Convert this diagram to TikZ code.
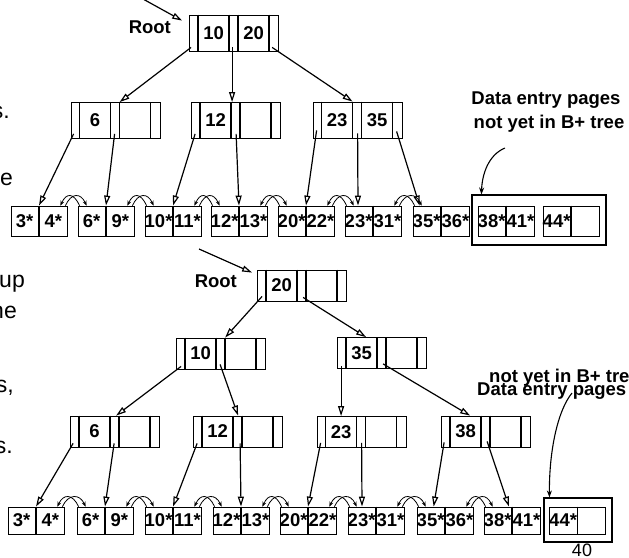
\documentclass[tikz,border=0pt]{standalone}
\usepackage{fontspec}
\setmainfont{Liberation Sans}
\usetikzlibrary{arrows.meta}

\tikzset{
  tnode/.style={draw, line width=0.8pt, minimum width=89pt, minimum height=36pt, inner sep=0pt},
  tsep/.style={line width=1.6pt},
  key/.style={font=\fontsize{18.5}{21}\bfseries\selectfont, inner sep=0pt},
  leaf/.style={draw, line width=0.8pt, minimum width=56pt, minimum height=30pt, inner sep=0pt},
  box/.style={draw, line width=1.1pt, inner sep=0pt},
  tptr/.style={line width=1.2pt, -{Triangle[open,length=10pt,width=6pt]}},
  link/.style={line width=0.8pt, -{Stealth[length=5pt,width=4pt]}},
  dptr/.style={line width=1.1pt, -{Stealth[length=7pt,width=5pt]}},
  lbl/.style={font=\fontsize{18.5}{21}\bfseries\selectfont, inner sep=0pt},
  frag/.style={font=\fontsize{23}{27}\selectfont, inner sep=0pt, anchor=base east},
}

% index node: name, x, y, left key, right key
\newcommand{\treenode}[5]{%
  \node[tnode] (#1) at (#2,#3) {};
  \foreach \dx in {9,40,49,80}
    \draw[tsep] ([xshift=\dx pt]#1.north west) -- ([xshift=\dx pt]#1.south west);
  \node[key] (#1a) at ([xshift=24.5pt]#1.west) {#4};
  \node[key] (#1b) at ([xshift=64.5pt]#1.west) {#5};
}

% leaf page: name, x, y, two entries
\newcommand{\leafnode}[5]{%
  \node[leaf] (#1) at (#2,#3) {};
  \draw[tsep] (#1.north) -- (#1.south);
  \node[key] (#1a) at ([xshift=14pt]#1.west) {#4};
  \node[key] (#1b) at ([xshift=-14pt]#1.east) {#5};
}

% sibling pointers between two leaves
\newcommand{\leaflink}[2]{%
  \draw[link] ([xshift=-2pt]#1.north east) .. controls +(6,-13) and +(-6,-13) .. ([xshift=9pt]#2.north west);
  \draw[link] ([xshift=2pt]#2.north west) .. controls +(-6,-13) and +(6,-13) .. ([xshift=-7pt]#1.north east);
}

\begin{document}
\begin{tikzpicture}[x=1pt,y=-1pt]
  \useasboundingbox (0,0) rectangle (629,557);

  \node[frag] (f1) at (10,118) {s.};
  \node[frag] (f2) at (13,185) {e};
  \node[frag] (f3) at (25,287) {up};
  \node[frag] (f4) at (17,318) {he};
  \node[frag] (f5) at (14,392) {s,};
  \node[frag] (f6) at (13,453) {s.};

  % before
  \treenode{tr}{234}{33}{10}{20}
  \treenode{t6}{115.5}{120.5}{6}{}
  \treenode{t12}{236}{120.5}{12}{}
  \treenode{t23}{357.5}{120}{23}{35}

  \node[box, minimum width=134pt, minimum height=50pt] (tbox) at (539,220) {};

  \leafnode{tl1}{39}{221}{3*}{4*}
  \leafnode{tl2}{106}{221}{6*}{9*}
  \leafnode{tl3}{173}{221}{10*}{11*}
  \leafnode{tl4}{239}{221}{12*}{13*}
  \leafnode{tl5}{306}{221}{20*}{22*}
  \leafnode{tl6}{373}{221}{23*}{31*}
  \leafnode{tl7}{441}{221}{35*}{36*}
  \leafnode{tl8}{506}{221}{38*}{41*}
  \leafnode{tl9}{571}{221}{44*}{}

  \foreach \i/\j in {1/2,2/3,3/4,4/5,5/6,6/7}
    {\leaflink{tl\i}{tl\j}}

  \coordinate (tin) at (143,-1);
  \draw[tptr] (tin) -- ([xshift=-7pt,yshift=-6pt]tr.north west);
  \node[lbl, anchor=east] (trl) at ([xshift=-18pt,yshift=6pt]tr.west) {Root};

  \draw[tptr] ([xshift=2pt,yshift=4pt]tr.south west) -- ([xshift=49pt]t6.north west);
  \draw[tptr] ([xshift=43pt,yshift=4pt]tr.south west) -- ([xshift=41pt]t12.north west);
  \draw[tptr] ([xshift=83pt,yshift=4pt]tr.south west) -- ([xshift=40pt]t23.north west);
  \draw[tptr] ([xshift=3pt,yshift=5pt]t6.south west) -- (tl1.north);
  \draw[tptr] ([xshift=44pt,yshift=5pt]t6.south west) -- (tl2.north);
  \draw[tptr] ([xshift=4pt,yshift=5pt]t12.south west) -- (tl3.north);
  \draw[tptr] ([xshift=45pt,yshift=5pt]t12.south west) -- (tl4.north);
  \draw[tptr] ([xshift=4pt,yshift=8pt]t23.south west) -- (tl5.north);
  \draw[tptr] ([xshift=45pt,yshift=5pt]t23.south west) -- ([xshift=-15pt]tl6.north);
  \draw[tptr] ([xshift=84pt,yshift=7pt]t23.south west) -- ([xshift=7pt]tl7.north west);

  \node[lbl] (td1) at (546,100) {Data entry pages};
  \node[lbl] (td2) at (549,124) {not yet in B+ tree};
  \coordinate (tda) at (505,148);
  \draw[dptr] (tda) .. controls (488,155) and (482,175) .. ([xshift=10pt]tbox.north west);

  % after
  \begin{scope}[tnode/.append style={minimum height=31pt}, leaf/.append style={minimum height=27pt}]
    \treenode{br}{302}{285.5}{20}{}
    \treenode{b10}{221}{353.5}{10}{}
    \treenode{b35}{382}{353}{35}{}
    \treenode{b6}{115}{431.5}{6}{}
    \treenode{b12}{238}{431.5}{12}{}
    \treenode{b23}{361.5}{432}{23}{}
    \treenode{b38}{486}{431.5}{38}{}

    \node[box, minimum width=68pt, minimum height=44pt] (bbox) at (578,520) {};

    \leafnode{bl1}{36}{520.5}{3*}{4*}
    \leafnode{bl2}{105}{520.5}{6*}{9*}
    \leafnode{bl3}{173}{520.5}{10*}{11*}
    \leafnode{bl4}{241}{520.5}{12*}{13*}
    \leafnode{bl5}{308}{520.5}{20*}{22*}
    \leafnode{bl6}{376}{520.5}{23*}{31*}
    \leafnode{bl7}{445}{520.5}{35*}{36*}
    \leafnode{bl8}{512}{520.5}{38*}{41*}
    \leafnode{bl9}{577.5}{520.5}{44*}{}
  \end{scope}

  \foreach \i/\j in {1/2,2/3,3/4,4/5,5/6,6/7,7/8}
    {\leaflink{bl\i}{bl\j}}

  \coordinate (bin) at (199,249);
  \draw[tptr] (bin) -- ([xshift=-5pt,yshift=-3pt]br.north west);
  \node[lbl, anchor=east] (brl) at ([xshift=-20pt,yshift=4pt]br.west) {Root};

  \draw[tptr] ([xshift=5pt,yshift=5pt]br.south west) -- ([xshift=49pt]b10.north west);
  \draw[tptr] ([xshift=46pt,yshift=4pt]br.south west) -- ([xshift=29pt]b35.north west);
  \draw[tptr] ([xshift=5pt,yshift=3pt]b10.south west) -- ([xshift=46pt]b6.north west);
  \draw[tptr] ([xshift=44pt,yshift=5pt]b10.south west) -- ([xshift=45pt]b12.north west);
  \draw[tptr] ([xshift=4pt,yshift=3pt]b35.south west) -- ([xshift=24.5pt]b23.north west);
  \draw[tptr] ([xshift=46pt,yshift=5pt]b35.south west) -- ([xshift=29pt]b38.north west);
  \draw[tptr] ([xshift=3pt,yshift=4pt]b6.south west) -- (bl1.north);
  \draw[tptr] ([xshift=44pt,yshift=4pt]b6.south west) -- (bl2.north);
  \draw[tptr] ([xshift=4pt,yshift=4pt]b12.south west) -- (bl3.north);
  \draw[tptr] ([xshift=47pt,yshift=4pt]b12.south west) -- (bl4.north);
  \draw[tptr] ([xshift=4pt,yshift=5pt]b23.south west) -- (bl5.north);
  \draw[tptr] ([xshift=45pt,yshift=5pt]b23.south west) -- ([xshift=-14pt]bl6.north);
  \draw[tptr] ([xshift=3pt,yshift=5pt]b38.south west) -- ([xshift=17pt]bl7.north west);
  \draw[tptr] ([xshift=46pt,yshift=6pt]b38.south west) -- ([xshift=-3pt]bl8.north);

  \node[lbl, anchor=west] (bd2) at (489,378) {not yet in B+ tree};
  \node[lbl, anchor=west] (bd1) at (477,391) {Data entry pages};
  \coordinate (bda) at (572,393);
  \draw[dptr] (bda) .. controls (558,410) and (549,450) .. ([xshift=6pt]bbox.north west);

  \node[inner sep=0pt, font=\fontsize{18}{21}\selectfont] (pg) at (582,550) {40};
\end{tikzpicture}
\end{document}
